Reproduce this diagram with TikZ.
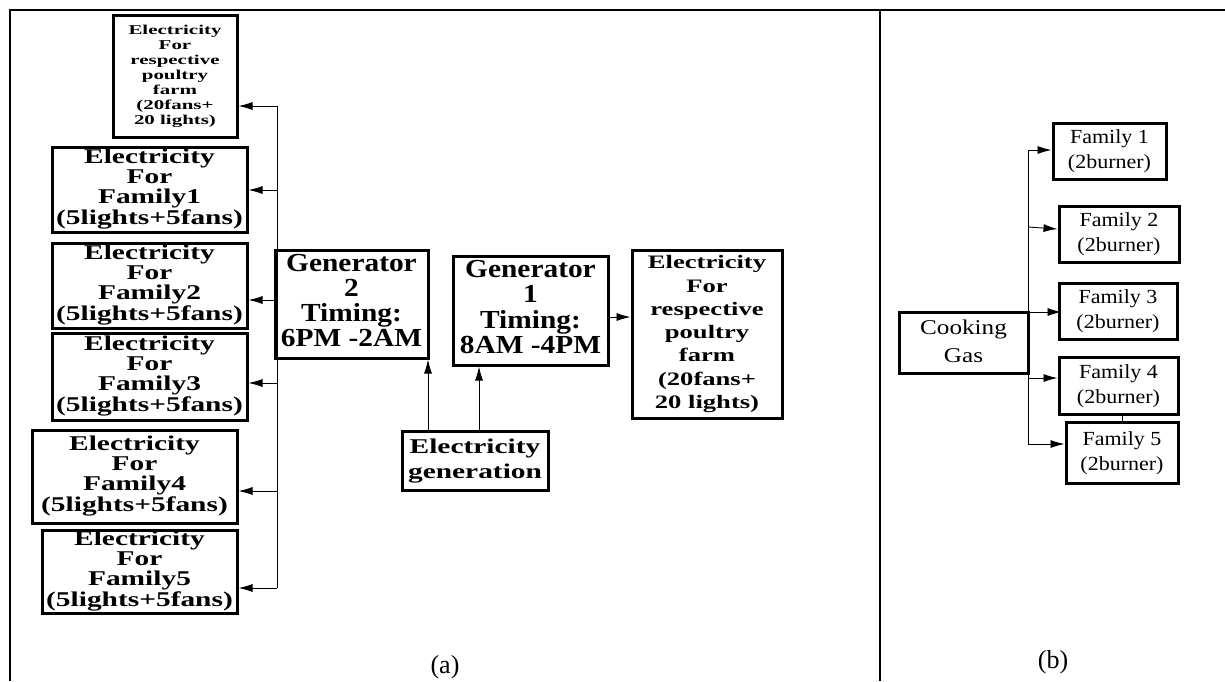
\documentclass[tikz,border=0pt]{standalone}
\usepackage{fontspec}
\usepackage{graphicx}
\usetikzlibrary{arrows.meta}
\newfontfamily\tms{Liberation Serif}
\newcommand\sx[4]{\scalebox{#1}[1]{\fontsize{#2}{#3}\selectfont\begin{tabular}{@{}c@{}}#4\end{tabular}}}
\begin{document}
\begin{tikzpicture}[x=1pt,y=-1pt,
  ebox/.style={draw, line width=3pt, inner sep=0pt, align=center, font=\tms\bfseries},
  gbox/.style={draw, line width=3pt, inner sep=0pt, align=center, font=\tms},
  conn/.style={line width=0.9pt},
  arr/.style={line width=0.9pt, -{Latex[length=14pt,width=8pt]}},
  frame/.style={line width=2pt},
  lbl/.style={font=\tms\fontsize{26}{26}\selectfont, inner sep=0pt}]
\useasboundingbox (0,0) rectangle (1225,681);
\fill[white] (0,0) rectangle (1225,681);
% frame
\draw[frame] (10,681) -- (10,10) -- (1225,10);
\draw[frame] (880,10) -- (880,681);
% left panel boxes
\node[ebox, minimum width=124pt, minimum height=122pt] (top) at (175,76)
  {\sx{1.55}{13.5}{15}{Electricity\\For\\respective\\poultry\\farm\\(20fans+\\20 lights)}};
\node[ebox, minimum width=195pt, minimum height=85pt] (f1) at (149.5,189.5)
  {\sx{1.4}{21}{20}{Electricity\\For\\Family1\\(5lights+5fans)}};
\node[ebox, minimum width=195pt, minimum height=85pt] (f2) at (149.5,285.5)
  {\sx{1.4}{21}{20}{Electricity\\For\\Family2\\(5lights+5fans)}};
\node[ebox, minimum width=195pt, minimum height=87pt] (f3) at (149.5,376.5)
  {\sx{1.4}{21}{20}{Electricity\\For\\Family3\\(5lights+5fans)}};
\node[ebox, minimum width=205pt, minimum height=93pt] (f4) at (134.5,476.5)
  {\sx{1.4}{21}{20}{Electricity\\For\\Family4\\(5lights+5fans)}};
\node[ebox, minimum width=195pt, minimum height=83pt] (f5) at (139.5,571.5)
  {\sx{1.4}{21}{20}{Electricity\\For\\Family5\\(5lights+5fans)}};
\node[ebox, minimum width=153pt, minimum height=108pt] (gen2) at (351.5,304)
  {\sx{1.13}{26}{25}{Generator\\2\\Timing:\\6PM -2AM}};
\node[ebox, minimum width=155pt, minimum height=109pt] (gen1) at (530.5,310.5)
  {\sx{1.13}{26}{25}{Generator\\1\\Timing:\\8AM -4PM}};
\node[ebox, minimum width=150pt, minimum height=168pt] (pr) at (707,334)
  {\sx{1.4}{19}{23.3}{Electricity\\For\\respective\\poultry\\farm\\(20fans+\\20 lights)}};
\node[ebox, minimum width=146pt, minimum height=59pt] (eg) at (475,460.5)
  {\sx{1.4}{21}{25}{Electricity\\generation}};
% left bus
\coordinate (b0) at (277,106);
\coordinate (b1) at (277,190);
\coordinate (b2) at (277,300);
\coordinate (b3) at (277,383);
\coordinate (b4) at (277,491);
\coordinate (b5) at (277,588);
\draw[conn] (b0) -- (b5);
\draw[arr] (b0) -- (b0 -| top.east);
\draw[arr] (b1) -- (b1 -| f1.east);
\draw[arr] (b2) -- (b2 -| f2.east);
\draw[arr] (b3) -- (b3 -| f3.east);
\draw[arr] (b4) -- (b4 -| f4.east);
\draw[arr] (b5) -- (b5 -| f5.east);
% generation arrows
\coordinate (e2) at (428,431);
\coordinate (e1) at (479,431);
\draw[arr] (e2) -- (e2 |- gen2.south);
\draw[arr] (e1) -- (e1 |- gen1.south);
\coordinate (g1o) at (608,317);
\draw[arr] (g1o) -- (g1o -| pr.west);
% right panel
\node[gbox, minimum width=129pt, minimum height=61pt] (cg) at (963.5,342.5)
  {\sx{1.2}{21}{28}{Cooking\\Gas}};
\node[gbox, minimum width=113pt, minimum height=56pt] (r1) at (1109.5,151)
  {\sx{1.1}{20}{25}{Family 1\\(2burner)}};
\node[gbox, minimum width=120pt, minimum height=56pt] (r2) at (1119,234)
  {\sx{1.1}{20}{25}{Family 2\\(2burner)}};
\node[gbox, minimum width=118pt, minimum height=56pt] (r3) at (1118,311)
  {\sx{1.1}{20}{25}{Family 3\\(2burner)}};
\node[gbox, minimum width=119pt, minimum height=57pt] (r4) at (1118.5,385.5)
  {\sx{1.1}{20}{25}{Family 4\\(2burner)}};
\node[gbox, minimum width=112pt, minimum height=61pt] (r5) at (1122,452.5)
  {\sx{1.1}{20}{25}{Family 5\\(2burner)}};
\coordinate (c1) at (1028,150);
\coordinate (c2) at (1028,227);
\coordinate (c3) at (1028,312);
\coordinate (c4) at (1028,378);
\coordinate (c5) at (1028,444);
\draw[conn] (c1) -- (c5);
\draw[arr] (c1) -- (c1 -| r1.west);
\draw[arr] (c2) -- ([yshift=-2pt]c2 -| r2.west);
\draw[arr] (c3) -- ([xshift=4pt]c3 -| r3.west);
\draw[arr] (c4) -- (c4 -| r4.west);
\draw[arr] (c5) -- (c5 -| r5.west);
\coordinate (k) at (1122,0);
\draw[conn] (r4.south -| k) -- (r5.north -| k);
% labels
\node[lbl] (la) at (445,667) {(a)};
\node[lbl] (lb) at (1053,662) {(b)};
\end{tikzpicture}
\end{document}
